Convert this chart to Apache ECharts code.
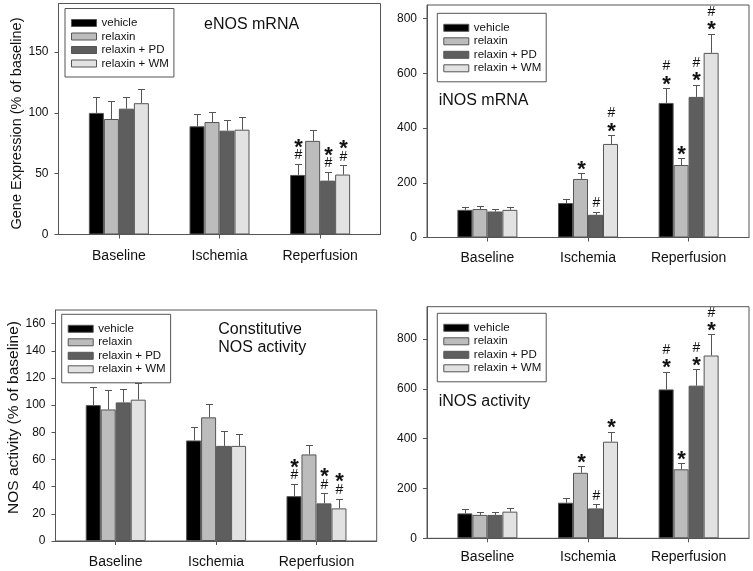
<!DOCTYPE html>
<html><head><meta charset="utf-8">
<script src="https://cdn.jsdelivr.net/npm/echarts@6/dist/echarts.min.js"></script>
<style>html,body{margin:0;padding:0;background:#fff}#c{width:753px;height:571px}</style>
</head><body><div id="c"></div>
<script>
// ---- data ----
const categories = ['Baseline', 'Ischemia', 'Reperfusion'];
const catPos = [1, 2, 3];
const groups = ['vehicle', 'relaxin', 'relaxin + PD', 'relaxin + WM'];

// rows = groups (vehicle, relaxin, relaxin+PD, relaxin+WM); cols = categories
// significance strings list the symbols from bottom to top
const enosMean = [[100, 89, 49], [95, 92.5, 77], [103.5, 85.4, 44.3], [108, 86.2, 49.3]];
const enosErr  = [[113, 99, 58], [109.5, 100.5, 86.2], [113, 94, 51.5], [119.6, 96.6, 57]];
const enosSig  = [['', '', '#*'], ['', '', ''], ['', '', '#*'], ['', '', '#*']];
const enosTicks = [0, 50, 100, 150];

const inosMean = [[101, 126, 492], [104, 214, 265], [95, 83, 514], [101, 342, 675]];
const inosErr  = [[110, 142, 547], [116, 236, 291], [104, 94, 559], [111, 375, 745]];
const inosSig  = [['', '', '*#'], ['', '*', '*'], ['', '#', '*#'], ['', '*#', '*#']];
const inosTicks = [0, 200, 400, 600, 800];

const cnosMean = [[100, 74, 33], [96.8, 91, 63.7], [102, 70, 27.7], [104, 70, 24]];
const cnosErr  = [[113, 84, 42], [111, 101, 71], [112, 81, 35], [116, 79, 31]];
const cnosSig  = [['', '', '#*'], ['', '', ''], ['', '', '#*'], ['', '', '#*']];
const cnosTicks = [0, 20, 40, 60, 80, 100, 120, 140, 160];

const inosActMean = [[100, 143, 598], [94, 263, 277], [94, 120, 613], [107, 388, 734]];
const inosActErr  = [[116, 160, 669], [104, 289, 301], [104, 136, 678], [120, 428, 819]];
const inosActSig  = [['', '', '*#'], ['', '*', '*'], ['', '#', '*#'], ['', '*', '*#']];
const inosActTicks = [0, 200, 400, 600, 800];

// ---- layout / style ----
const FONT = 'Liberation Sans';
const LINE = '#555';
const TXT = '#111';
const colors = ['#000000', '#bcbcbc', '#5e5e5e', '#e2e2e2'];
const BAR_W = 15;
const STAR_SIZE = 22;

const panels = [
  {mean: enosMean, err: enosErr, sig: enosSig, ticks: enosTicks, max: 190,
   grid: {left: 58.5, top: 3.5, width: 322, height: 231}, yName: 'Gene Expression (% of baseline)',
   yNameSize: 14.5, yNamePad: [0, 9, 0, 0],
   title: 'eNOS mRNA', titlePos: {left: 204, top: 15}, legendPos: {left: 65, top: 8.5}, xMargin: 14.5},
  {mean: inosMean, err: inosErr, sig: inosSig, ticks: inosTicks, max: 850,
   grid: {left: 427, top: 5, width: 322, height: 232.5}, yName: '', yNameSize: 14.5, yNamePad: 0,
   title: 'iNOS mRNA', titlePos: {left: 438.7, top: 91}, legendPos: {left: 437.3, top: 13.3}, xMargin: 13.5},
  {mean: cnosMean, err: cnosErr, sig: cnosSig, ticks: cnosTicks, max: 170,
   grid: {left: 55.5, top: 310, width: 321.2, height: 231}, yName: 'NOS activity (% of baseline)',
   yNameSize: 15.5, yNamePad: [0, 0, 0, 16],
   title: 'Constitutive\nNOS activity', titlePos: {left: 218.3, top: 320.3}, legendPos: {left: 61.7, top: 314.3}, xMargin: 14},
  {mean: inosActMean, err: inosActErr, sig: inosActSig, ticks: inosActTicks, max: 930,
   grid: {left: 427, top: 306.7, width: 322, height: 231.6}, yName: '', yNameSize: 14.5, yNamePad: 0,
   title: 'iNOS activity', titlePos: {left: 438.7, top: 392.7}, legendPos: {left: 437.3, top: 313.3}, xMargin: 12}
];

const grid = panels.map(p => Object.assign({show: true, borderColor: LINE, borderWidth: 1, backgroundColor: 'transparent'}, p.grid));

const xAxis = panels.map((p, i) => ({
  type: 'value', gridIndex: i, min: 0.4, max: 3.6,
  splitLine: {show: false},
  axisLine: {show: true, lineStyle: {color: LINE, width: 1}},
  axisTick: {show: true, inside: false, length: 4, lineStyle: {color: LINE}, customValues: catPos},
  axisLabel: {customValues: catPos, margin: p.xMargin, fontSize: 14, color: TXT, fontFamily: FONT,
    formatter: v => categories[catPos.indexOf(Math.round(v))] || ''}
}));

const yAxis = panels.map((p, i) => ({
  type: 'value', gridIndex: i, min: 0, max: p.max,
  splitLine: {show: false},
  axisLine: {show: true, lineStyle: {color: LINE, width: 1}},
  axisTick: {show: true, inside: false, length: 4, lineStyle: {color: LINE}, customValues: p.ticks},
  axisLabel: {customValues: p.ticks, margin: 10, fontSize: 12, color: TXT, fontFamily: FONT},
  name: p.yName, nameLocation: 'middle', nameGap: 33.5,
  nameTextStyle: {fontSize: p.yNameSize, color: TXT, fontFamily: FONT, padding: p.yNamePad}
}));

const series = [];
panels.forEach((p, i) => {
  groups.forEach((g, gi) => {
    series.push({
      type: 'bar', name: g, xAxisIndex: i, yAxisIndex: i,
      data: catPos.map((x, c) => [x, p.mean[gi][c]]),
      barWidth: BAR_W, barGap: '0%',
      itemStyle: {color: colors[gi], borderColor: LINE, borderWidth: 1},
      emphasis: {disabled: true}, z: 2
    });
  });
  const errData = [];
  groups.forEach((g, gi) => catPos.forEach((x, c) => errData.push([x, p.err[gi][c], gi, c, p.mean[gi][c]])));
  series.push({
    type: 'custom', xAxisIndex: i, yAxisIndex: i, z: 3, silent: true, clip: false,
    encode: {x: 0, y: 1},
    data: errData,
    renderItem: function (params, api) {
      const x = api.value(0), top = api.value(1), gi = api.value(2), c = api.value(3), m = api.value(4);
      const off = (gi - 1.5) * BAR_W;
      const pTop = api.coord([x, top]);
      const pBar = api.coord([x, m]);
      const cx = Math.round(pTop[0] + off) + 0.5;
      const ty = Math.round(pTop[1]) + 0.5;
      const children = [
        {type: 'line', shape: {x1: cx, y1: pBar[1], x2: cx, y2: ty}, style: {stroke: LINE, lineWidth: 1}},
        {type: 'line', shape: {x1: cx - 3.5, y1: ty, x2: cx + 3.5, y2: ty}, style: {stroke: LINE, lineWidth: 1}}
      ];
      const s = p.sig[gi][c];
      let y = pTop[1] - 8.5;
      for (const ch of s) {
        const star = ch === '*';
        children.push({type: 'text', style: {text: ch, x: cx, y: y + (star ? STAR_SIZE * 0.23 : 0), align: 'center', verticalAlign: 'middle',
          fontSize: star ? STAR_SIZE : 14, fontWeight: star ? 'bold' : 'normal', fontFamily: FONT, fill: TXT}});
        y -= 13;
      }
      return {type: 'group', children: children};
    }
  });
});

const legend = panels.map(p => ({
  data: groups, orient: 'vertical', left: p.legendPos.left, top: p.legendPos.top,
  itemWidth: 25, itemHeight: 7, itemGap: 0.5, icon: 'rect',
  padding: [8, 5, 7, 6], borderColor: LINE, borderWidth: 1, borderRadius: 0,
  backgroundColor: '#fff', selectedMode: false,
  itemStyle: {borderColor: LINE, borderWidth: 1},
  textStyle: {fontSize: 11.5, lineHeight: 13, color: TXT, fontFamily: FONT}
}));

const title = panels.map(p => ({
  text: p.title, left: p.titlePos.left, top: p.titlePos.top, padding: 0,
  textStyle: {fontSize: 16, fontWeight: 'normal', color: TXT, fontFamily: FONT, lineHeight: 18.4}
}));

const chart = echarts.init(document.getElementById('c'), null, {renderer: 'canvas'});
chart.setOption({
  animation: false,
  backgroundColor: '#fff',
  textStyle: {fontFamily: FONT},
  title: title, legend: legend, grid: grid, xAxis: xAxis, yAxis: yAxis, series: series
});
</script></body></html>
